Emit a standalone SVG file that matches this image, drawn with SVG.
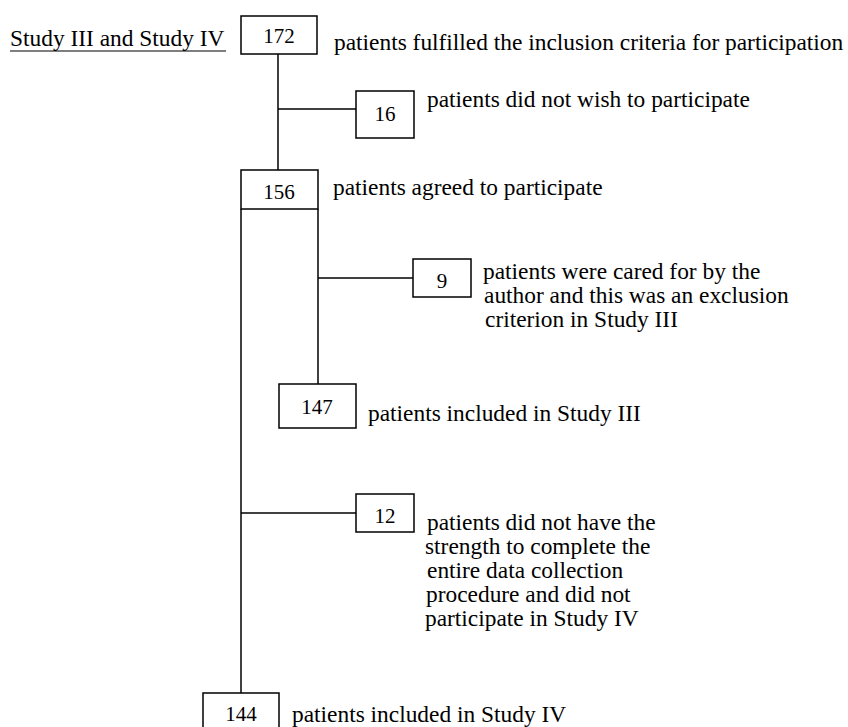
<svg xmlns="http://www.w3.org/2000/svg" width="848" height="727" viewBox="0 0 848 727">
<style>
.box{fill:#fff;stroke:#000;stroke-width:1.5}
.ln{stroke:#000;stroke-width:1.5;fill:none}
text{font-family:"Liberation Serif","Times New Roman",serif;font-size:23.4px;fill:#000}
.c{text-anchor:middle;font-size:21px}
</style>
<rect width="848" height="727" fill="#fff"/>
<g id="connectors">
<line class="ln" x1="278" y1="54" x2="278" y2="170"/>
<line class="ln" x1="278" y1="109" x2="356" y2="109"/>
<line class="ln" x1="318" y1="209" x2="318" y2="384"/>
<line class="ln" x1="318" y1="278" x2="413" y2="278"/>
<line class="ln" x1="241" y1="209" x2="241" y2="693"/>
<line class="ln" x1="241" y1="513" x2="356" y2="513"/>
</g>
<g id="title">
<text x="10" y="46">Study III and Study IV</text>
<line class="ln" x1="10" y1="51" x2="226" y2="51" style="stroke-width:1.2"/>
</g>
<g id="n172">
<rect class="box" x="241" y="16" width="76" height="38"/>
<text class="c" x="279" y="43">172</text>
<text x="334" y="50">patients fulfilled the inclusion criteria for participation</text>
</g>
<g id="n16">
<rect class="box" x="356" y="91" width="58" height="47"/>
<text class="c" x="385" y="121">16</text>
<text x="427" y="107">patients did not wish to participate</text>
</g>
<g id="n156">
<rect class="box" x="241" y="170" width="77" height="39"/>
<text class="c" x="279" y="199">156</text>
<text x="333" y="195">patients agreed to participate</text>
</g>
<g id="n9">
<rect class="box" x="413" y="259" width="58" height="38"/>
<text class="c" x="442" y="288">9</text>
<text x="483" y="279">patients were cared for by the</text>
<text x="484" y="303">author and this was an exclusion</text>
<text x="485" y="327">criterion in Study III</text>
</g>
<g id="n147">
<rect class="box" x="279" y="384" width="77" height="44"/>
<text class="c" x="317" y="414">147</text>
<text x="368" y="421">patients included in Study III</text>
</g>
<g id="n12">
<rect class="box" x="356" y="494" width="58" height="38"/>
<text class="c" x="385" y="523">12</text>
<text x="427" y="530">patients did not have the</text>
<text x="425" y="554">strength to complete the</text>
<text x="427" y="578">entire data collection</text>
<text x="426" y="602">procedure and did not</text>
<text x="425" y="626">participate in Study IV</text>
</g>
<g id="n144">
<rect class="box" x="203" y="693" width="76" height="44"/>
<text class="c" x="241" y="721">144</text>
<text x="292" y="722">patients included in Study IV</text>
</g>
</svg>
